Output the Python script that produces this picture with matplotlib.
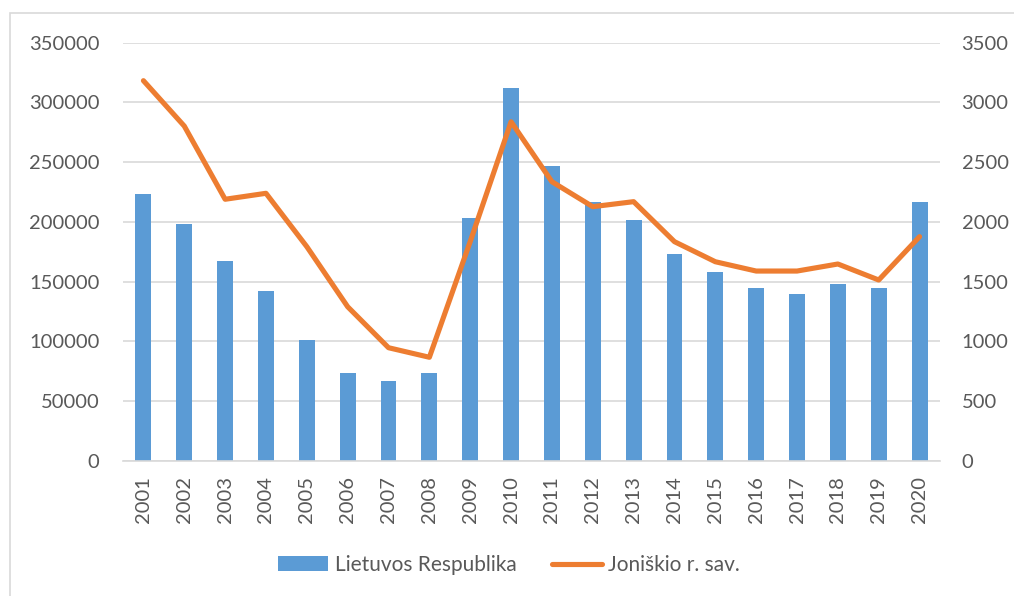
import matplotlib.pyplot as plt
from matplotlib.patches import Rectangle
from matplotlib.ticker import MultipleLocator

years = [str(y) for y in range(2001, 2021)]
lietuva = [223300, 198200, 167000, 142300, 100800, 73200, 67000, 73200, 203200, 312100,
           247000, 216600, 201300, 172800, 158000, 144600, 139600, 147900, 144600, 216400]
joniskis = [3182, 2802, 2189, 2239, 1792, 1289, 946, 866, 1835, 2838,
            2336, 2127, 2169, 1834, 1666, 1588, 1588, 1647, 1513, 1876]

BLUE = "#5B9BD5"
ORANGE = "#ED7D31"
GRID = "#D9D9D9"
TEXT = "#595959"

plt.rcParams["font.family"] = ["Lato", "DejaVu Sans"]
plt.rcParams["font.size"] = 14.5

fig = plt.figure(figsize=(10.14, 5.96), dpi=100)
fig.patches.append(Rectangle((10, -20), 1100, 596 - 13 + 20, transform=None,
                             fill=False, edgecolor=GRID, linewidth=1.2))

ax = fig.add_axes([123 / 1014, 1 - 460.7 / 596, (940 - 123) / 1014, 418 / 596])
x = range(len(years))
bars = ax.bar(x, lietuva, width=0.39, color=BLUE, label="Lietuvos Respublika", zorder=2)
ax.set_ylim(0, 350000)
ax.set_xlim(-0.5, len(years) - 0.5)
ax.yaxis.set_major_locator(MultipleLocator(50000))
ax.grid(axis="y", color=GRID, linewidth=1.2, zorder=0)
ax.set_axisbelow(True)
for s in ["top", "left", "right"]:
    ax.spines[s].set_visible(False)
ax.spines["bottom"].set_color(GRID)
ax.spines["bottom"].set_linewidth(1.2)
ax.set_xticks(list(x))
ax.set_xticklabels(years, rotation=90)
ax.tick_params(axis="both", length=0, colors=TEXT)
ax.tick_params(axis="y", pad=17)
ax.tick_params(axis="x", pad=11)

ax2 = ax.twinx()
line, = ax2.plot(list(x), joniskis, color=ORANGE, linewidth=3.7, solid_capstyle="round",
                 solid_joinstyle="round", label="Joniškio r. sav.", zorder=3)
ax2.set_ylim(0, 3500)
ax2.yaxis.set_major_locator(MultipleLocator(500))
for s in ["top", "left", "right", "bottom"]:
    ax2.spines[s].set_visible(False)
ax2.tick_params(axis="y", length=0, colors=TEXT, pad=15.5)

fig.legend([bars, line], ["Lietuvos Respublika", "Joniškio r. sav."], ncol=2,
           loc="center", bbox_to_anchor=(509 / 1014, 1 - 565 / 596), frameon=False,
           fontsize=15, handlelength=2.4, handletextpad=0.3, columnspacing=1.7,
           labelcolor=TEXT)

fig.savefig("out.png", dpi=100)
